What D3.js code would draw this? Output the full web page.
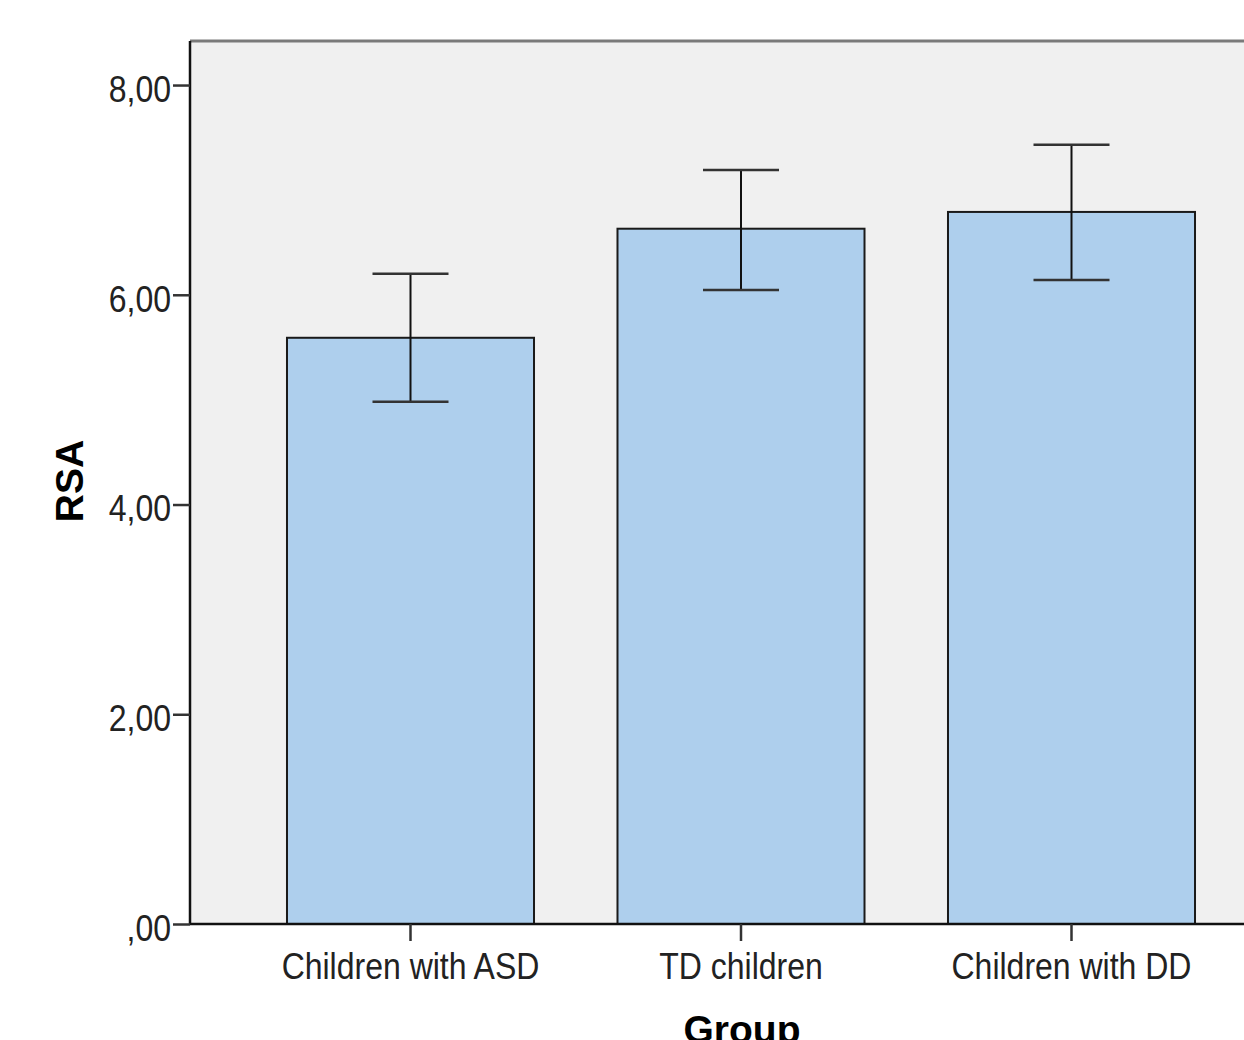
<!DOCTYPE html>
<html><head><meta charset="utf-8">
<script src="https://cdn.jsdelivr.net/npm/d3@7"></script>
<style>body{margin:0;background:#fff}svg{display:block}</style>
</head><body>
<svg id="c" width="1244" height="1040"></svg>
<script>
const categories = ["Children with ASD", "TD children", "Children with DD"];
const means = [5.59, 6.63, 6.79];
const upper = [6.20, 7.19, 7.43];
const lower = [4.98, 6.045, 6.14];
const yTicks = [0, 2, 4, 6, 8];
const yTickLabels = [",00", "2,00", "4,00", "6,00", "8,00"];
const yTitle = "RSA";
const xTitle = "Group";

const svg = d3.select("#c");
const plotLeft = 190, plotTop = 41, plotBottom = 924, plotRight = 1244;

const y = d3.scaleLinear().domain([0, 8.42]).range([plotBottom, plotTop]);
const x = d3.scaleBand().domain(categories).range([245.25, 1236.75]).paddingInner(0.2526).paddingOuter(0.1263);

// plot background
svg.append("rect").attr("x", plotLeft).attr("y", plotTop)
  .attr("width", plotRight - plotLeft + 10).attr("height", plotBottom - plotTop)
  .attr("fill", "#f0f0f0");
// top border
svg.append("line").attr("x1", plotLeft).attr("x2", plotRight + 10)
  .attr("y1", plotTop).attr("y2", plotTop)
  .attr("stroke", "#7a7a7a").attr("stroke-width", 3);

// bars
svg.selectAll("rect.bar").data(categories).join("rect").attr("class", "bar")
  .attr("x", d => x(d)).attr("width", x.bandwidth())
  .attr("y", (d, i) => y(means[i])).attr("height", (d, i) => y(0) - y(means[i]))
  .attr("fill", "#aecfed").attr("stroke", "#1a1a1a").attr("stroke-width", 2);

// error bars
const capW = 76;
const eb = svg.selectAll("g.eb").data(categories).join("g").attr("class", "eb");
eb.append("line")
  .attr("x1", d => x(d) + x.bandwidth() / 2).attr("x2", d => x(d) + x.bandwidth() / 2)
  .attr("y1", (d, i) => y(upper[i])).attr("y2", (d, i) => y(lower[i]))
  .attr("stroke", "#111").attr("stroke-width", 2);
eb.append("line")
  .attr("x1", d => x(d) + x.bandwidth() / 2 - capW / 2).attr("x2", d => x(d) + x.bandwidth() / 2 + capW / 2)
  .attr("y1", (d, i) => y(upper[i])).attr("y2", (d, i) => y(upper[i]))
  .attr("stroke", "#333").attr("stroke-width", 2.5);
eb.append("line")
  .attr("x1", d => x(d) + x.bandwidth() / 2 - capW / 2).attr("x2", d => x(d) + x.bandwidth() / 2 + capW / 2)
  .attr("y1", (d, i) => y(lower[i])).attr("y2", (d, i) => y(lower[i]))
  .attr("stroke", "#333").attr("stroke-width", 2.5);

// y axis
const yAxis = d3.axisLeft(y).tickValues(yTicks)
  .tickFormat((d, i) => yTickLabels[i]).tickSize(17).tickSizeOuter(0);
const gy = svg.append("g").attr("transform", `translate(${plotLeft},0)`).call(yAxis);
gy.select(".domain").attr("stroke", "#111").attr("stroke-width", 2.5)
  .attr("d", `M0,${plotTop}V${plotBottom}`);
gy.selectAll(".tick line").attr("stroke", "#333").attr("stroke-width", 2.5);
gy.selectAll(".tick text")
  .attr("x", -19).attr("dy", null).attr("y", 14.5)
  .attr("transform", "scale(1,1.13)")
  .attr("font-family", "'Liberation Sans', Arial, sans-serif")
  .attr("font-size", 32).attr("fill", "#222");

// x axis
const xAxis = d3.axisBottom(x).tickSize(17).tickSizeOuter(0);
const gx = svg.append("g").attr("transform", `translate(0,${plotBottom})`).call(xAxis);
gx.select(".domain").attr("stroke", "#111").attr("stroke-width", 2.5)
  .attr("d", `M${plotLeft},0H${plotRight + 10}`);
gx.selectAll(".tick line").attr("stroke", "#333").attr("stroke-width", 2.5);
gx.selectAll(".tick text")
  .attr("y", 55 / 1.13).attr("dy", null)
  .attr("transform", "scale(1,1.13)")
  .attr("font-family", "'Liberation Sans', Arial, sans-serif")
  .attr("font-size", 32).attr("fill", "#222");

// titles
svg.append("text").attr("transform", `translate(83,481) rotate(-90)`)
  .attr("text-anchor", "middle")
  .attr("font-family", "'Liberation Sans', Arial, sans-serif")
  .attr("font-weight", "bold").attr("font-size", 39).attr("fill", "#000")
  .text(yTitle);
svg.append("text").attr("x", 742).attr("y", 1043)
  .attr("text-anchor", "middle")
  .attr("font-family", "'Liberation Sans', Arial, sans-serif")
  .attr("font-weight", "bold").attr("font-size", 39).attr("fill", "#000")
  .text(xTitle);
</script>
</body></html>
